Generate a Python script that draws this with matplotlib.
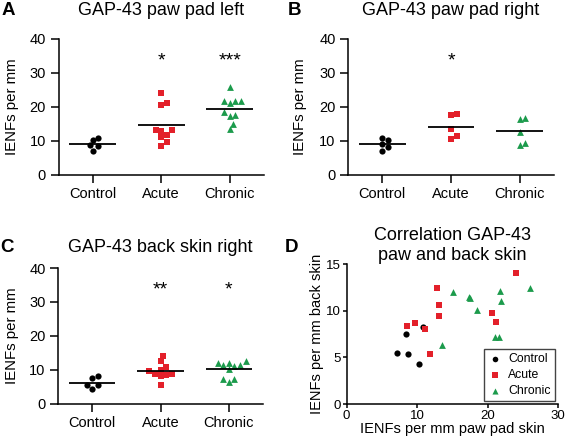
import numpy as np
import matplotlib
matplotlib.use('Agg')
import matplotlib.pyplot as plt

plt.rcParams['font.family'] = ['Liberation Sans', 'DejaVu Sans']

groups = ['Control', 'Acute', 'Chronic']
colors = ['black', '#e3202a', '#1c9b4c']
markers = ['o', 's', '^']

# GAP-43 paw pad left (also the x values in D)
paw_left_control = [7.2, 8.7, 8.5, 10.35, 10.8]
paw_left_acute = [8.6, 9.7, 11.1, 11.8, 12.85, 13.1, 13.1, 20.6, 21.2, 24.05]
paw_left_chronic = [13.5, 15.05, 17.4, 17.5, 18.45, 21.05, 21.65, 21.75, 21.85, 26.0]

# GAP-43 back skin right (also the y values in D)
back_control = [5.47, 5.36, 7.5, 4.25, 8.2]
back_acute = [8.32, 8.68, 8.07, 5.36, 12.47, 10.64, 9.46, 9.79, 8.79, 14.0]
back_chronic = [6.28, 11.96, 11.47, 11.33, 10.1, 7.18, 7.18, 12.07, 11.04, 12.47]

# GAP-43 paw pad right
paw_right_control = [10.9, 10.2, 9.0, 8.2, 7.2]
paw_right_acute = [18.0, 17.5, 13.4, 11.5, 10.6]
paw_right_chronic = [16.8, 16.6, 12.7, 9.4, 8.8]

stars_A = ['', '*', '***']
stars_B = ['', '*', '']
stars_C = ['', '**', '*']

W, H = 566, 440
fig = plt.figure(figsize=(W / 100, H / 100), dpi=100)


def px_axes(left, right, top, bottom):
    return fig.add_axes([left / W, 1 - bottom / H, (right - left) / W, (bottom - top) / H])


def style(ax, tick_len=5.5, pad=3.5, size=10.5):
    for s in ['top', 'right']:
        ax.spines[s].set_visible(False)
    for s in ['left', 'bottom']:
        ax.spines[s].set_linewidth(1.1)
    ax.tick_params(direction='out', length=tick_len, width=1.1, pad=pad, labelsize=size)


def swarm_x(ax, center, vals, d=5.6):
    pts = ax.transData.transform(np.column_stack([np.full(len(vals), center), vals]))
    order = np.argsort(vals)
    placed = []
    out = np.array(pts, dtype=float)
    for i in order:
        cx, cy = pts[i]
        for k in range(40):
            off = ((k + 1) // 2) * d * 0.5 * (1 if k % 2 else -1)
            x = cx + off
            if all(np.hypot(x - px, cy - py) >= d for px, py in placed):
                break
        placed.append((x, cy))
        out[i] = (x, cy)
    return ax.transData.inverted().transform(out)[:, 0]


def dot_panel(ax, data, stars, title, title_pad):
    style(ax)
    ax.set_xlim(-0.5, 2.5)
    ax.set_ylim(0, 40)
    ax.set_yticks([0, 10, 20, 30, 40])
    ax.set_xticks(range(len(groups)))
    ax.set_xticklabels(groups)
    fig.canvas.draw()
    for i, vals in enumerate(data):
        xs = swarm_x(ax, i, vals)
        ax.scatter(xs, vals, marker=markers[i], color=colors[i], s=20 if i < 2 else 24,
                   linewidths=0, zorder=3, clip_on=False)
        m = np.mean(vals)
        ax.hlines(m, i - 0.34, i + 0.34, color='black', linewidth=1.3, zorder=4)
        if stars[i]:
            ax.text(i, 32.3, stars[i], ha='center', va='baseline', fontsize=14)
    ax.set_ylabel('IENFs per mm', fontsize=10.8)
    ax.set_title(title, fontsize=13, pad=title_pad)


axA = px_axes(58.5, 264, 39, 175)
axB = px_axes(348, 554, 39, 175)
axC = px_axes(58, 263, 268, 403.5)
axD = px_axes(346.5, 558, 264, 404)

dot_panel(axA, [paw_left_control, paw_left_acute, paw_left_chronic], stars_A,
          'GAP-43 paw pad left', 17)
dot_panel(axB, [paw_right_control, paw_right_acute, paw_right_chronic], stars_B,
          'GAP-43 paw pad right', 17)
dot_panel(axC, [back_control, back_acute, back_chronic], stars_C,
          'GAP-43 back skin right', 11.5)
axA.yaxis.set_label_coords(-0.19, 0.5)
axB.yaxis.set_label_coords(-0.20, 0.5)
axC.yaxis.set_label_coords(-0.19, 0.5)

# D: correlation
style(axD, tick_len=3.0, pad=1.2, size=9.5)
xs_sets = [paw_left_control, paw_left_acute, paw_left_chronic]
ys_sets = [back_control, back_acute, back_chronic]
for i in range(3):
    axD.scatter(xs_sets[i], ys_sets[i], marker=markers[i], color=colors[i],
                s=20 if i < 2 else 24, linewidths=0, label=groups[i], zorder=3)
axD.set_xlim(0, 30)
axD.set_ylim(0, 15)
axD.set_xticks([0, 10, 20, 30])
axD.set_yticks([0, 5, 10, 15])
axD.set_xlabel('IENFs per mm paw pad skin', fontsize=10.5)
axD.set_ylabel('IENFs per mm back skin', fontsize=10.5)
axD.xaxis.set_label_coords(0.5, -0.13)
axD.yaxis.set_label_coords(-0.105, 0.5)
axD.set_title('Correlation GAP-43\npaw and back skin', fontsize=13, pad=3, linespacing=1.2)
leg = axD.legend(loc='lower right', bbox_to_anchor=(0.986, 0.02), fontsize=8.8,
                 fancybox=False, framealpha=1, edgecolor='#444444', handletextpad=0.5,
                 borderpad=0.35, labelspacing=0.32, handlelength=1.1, markerscale=0.9,
                 borderaxespad=0)
leg.get_frame().set_linewidth(1.0)

for letter, (x, y) in zip('ABCD', [(1.5, 15), (287.5, 15), (0, 252), (285, 252)]):
    fig.text(x / W, 1 - y / H, letter, fontsize=13.5, fontweight='bold', va='baseline')

fig.savefig('out.png', dpi=100)
